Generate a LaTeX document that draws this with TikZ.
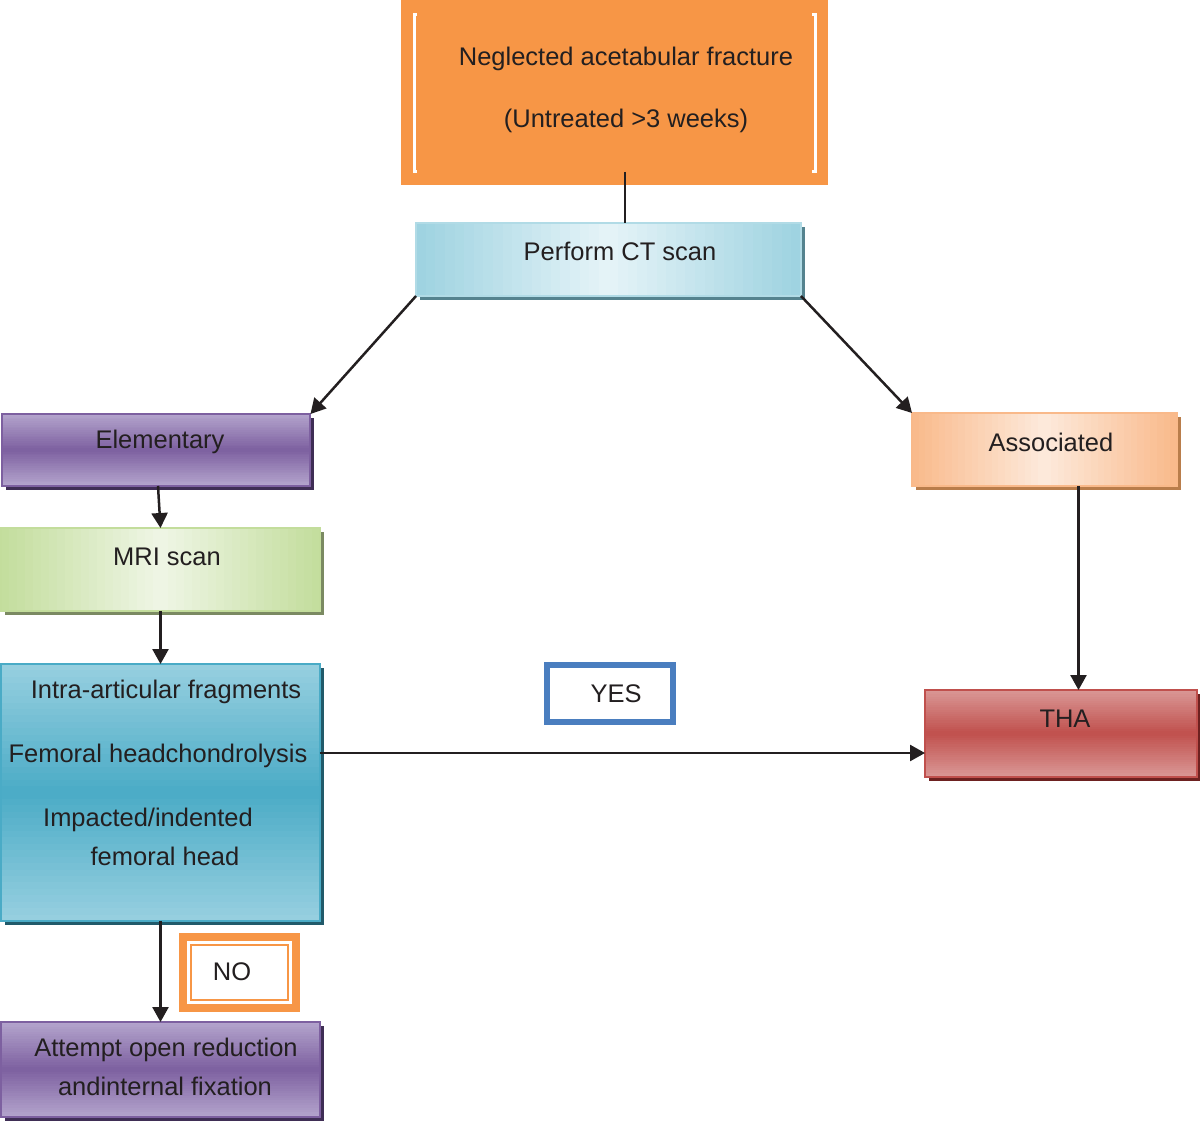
\documentclass[tikz,border=0pt]{standalone}
\usepackage{fontspec}
\setmainfont{Liberation Sans}
\usetikzlibrary{arrows.meta, shadows, calc}

\definecolor{ink}{HTML}{231F20}
\definecolor{fracorange}{HTML}{F79646}
\definecolor{ctdark}{HTML}{9DD2E0}
\definecolor{ctlight}{HTML}{E6F4F8}
\definecolor{ctshadow}{HTML}{55838F}
\definecolor{purpledark}{HTML}{7D60A0}
\definecolor{purplelight}{HTML}{B4A5CD}
\definecolor{purpleshadow}{HTML}{3F2E55}
\definecolor{mridark}{HTML}{C3DD9C}
\definecolor{mrilight}{HTML}{EFF6E6}
\definecolor{mrishadow}{HTML}{7B8A62}
\definecolor{critdark}{HTML}{4AABC6}
\definecolor{critlight}{HTML}{98D0E0}
\definecolor{critshadow}{HTML}{215A6A}
\definecolor{assocdark}{HTML}{F9B98A}
\definecolor{assoclight}{HTML}{FDEADC}
\definecolor{assocshadow}{HTML}{B97D4B}
\definecolor{thadark}{HTML}{C0504D}
\definecolor{thalight}{HTML}{DA9896}
\definecolor{thashadow}{HTML}{6D2120}
\definecolor{yesblue}{HTML}{4A7EBF}

\begin{document}
\begin{tikzpicture}[
    x=0.02cm, y=-0.02cm,
    >={Triangle[length=0.3cm,width=0.32cm]},
    every node/.style={font=\fontsize{14.5}{17}\selectfont, text=ink},
    flow box/.style={draw, line width=0.04cm, inner sep=0pt, outer sep=0pt},
    flow text/.style={inner sep=0pt, align=center},
    flow link/.style={draw=ink, line width=0.05cm},
    box shadow/.style={general shadow={fill=#1, shadow xshift=0.08cm, shadow yshift=-0.08cm}},
    % edge colour #1, middle colour #2, top to bottom
    vgrad/.style 2 args={path picture={
        \foreach \i in {0,...,39} {
            \pgfmathsetmacro\mix{100*abs((\i+0.5)/20-1)}
            \fill [#1!\mix!#2] ($(path picture bounding box.north west)!{\i/40}!(path picture bounding box.south west)$)
                rectangle ($(path picture bounding box.north east)!{(\i+1.5)/40}!(path picture bounding box.south east)$);
        }}},
    % edge colour #1, middle colour #2, left to right
    hgrad/.style 2 args={path picture={
        \foreach \i in {0,...,39} {
            \pgfmathsetmacro\mix{100*abs((\i+0.5)/20-1)}
            \fill [#1!\mix!#2] ($(path picture bounding box.north west)!{\i/40}!(path picture bounding box.north east)$)
                rectangle ($(path picture bounding box.south west)!{(\i+1.5)/40}!(path picture bounding box.south east)$);
        }}},
    purple box/.style={flow box, draw=purpledark, vgrad={purplelight}{purpledark}, box shadow=purpleshadow},
    answer box/.style={draw, fill=white, inner sep=0pt, outer sep=0pt}
    ]
    \useasboundingbox (0,0) rectangle (1200,1122);
    % nodes
    % neglected fracture
    \node [fill=fracorange, minimum width=8.54cm, minimum height=3.7cm, inner sep=0pt, outer sep=0pt] (top) at (614.5,92.5) {};
    \draw [white, line width=0.06cm] (417,15) -- (414,15) -- (414,171) -- (417,171);
    \draw [white, line width=0.06cm] (812,15) -- (815,15) -- (815,171) -- (812,171);
    \node [flow text] (top text 1) at (626,59) {Neglected acetabular fracture};
    \node [flow text] (top text 2) at (626,121) {(Untreated >3 weeks)};
    % CT
    \node [flow box, draw=ctdark!80, hgrad={ctdark}{ctlight}, box shadow=ctshadow,
        minimum width=7.7cm, minimum height=1.46cm] (ct) at (608.5,259.5) {};
    \node [flow text] (ct text) at (620,251) {Perform CT scan};
    % elementary
    \node [purple box, minimum width=6.18cm, minimum height=1.44cm] (elem) at (156,450) {};
    \node [flow text] (elem text) at (160,442) {Elementary};
    % MRI
    \node [flow box, draw=mridark, hgrad={mridark}{mrilight}, box shadow=mrishadow,
        minimum width=6.38cm, minimum height=1.66cm] (mri) at (160.5,569.5) {};
    \node [flow text] (mri text) at (167,557) {MRI scan};
    % criteria
    \node [flow box, draw=critdark, vgrad={critlight}{critdark}, box shadow=critshadow,
        minimum width=6.38cm, minimum height=5.14cm] (crit) at (160.5,792.5) {};
    \node [flow text] (crit text 1) at (166,692) {Intra-articular fragments};
    \node [flow text] (crit text 2) at (158,756) {Femoral headchondrolysis};
    \node [flow text] (crit text 3) at (148,820) {Impacted/indented};
    \node [flow text] (crit text 4) at (165,856) {femoral head};
    % attempt ORIF
    \node [purple box, minimum width=6.38cm, minimum height=1.9cm] (orif) at (160.5,1069.5) {};
    \node [flow text] (orif text 1) at (166,1050) {Attempt open reduction};
    \node [flow text] (orif text 2) at (165,1086) {andinternal fixation};
    % associated
    \node [flow box, draw=assocdark, hgrad={assocdark}{assoclight}, box shadow=assocshadow,
        minimum width=5.3cm, minimum height=1.46cm] (assoc) at (1044.5,449.5) {};
    \node [flow text] (assoc text) at (1051,442) {Associated};
    % THA
    \node [flow box, draw=thadark, vgrad={thalight}{thadark}, box shadow=thashadow,
        minimum width=5.44cm, minimum height=1.74cm] (tha) at (1061,733.5) {};
    \node [flow text] (tha text) at (1065,719) {THA};
    % yes / no
    \node [answer box, draw=yesblue, line width=0.12cm, minimum width=2.52cm, minimum height=1.14cm] (yes) at (610,693.5) {};
    \node [flow text] (yes text) at (616,694) {YES};
    \node [answer box, draw=fracorange, line width=0.16cm, minimum width=2.26cm, minimum height=1.42cm] (no) at (239.5,972.5) {};
    \draw [fracorange, line width=0.05cm] ([shift={(0.16cm,-0.16cm)}]no.north west) rectangle ([shift={(-0.16cm,0.16cm)}]no.south east);
    \node [flow text] (no text) at (232,972) {NO};
    % edges
    \draw [flow link] ([xshift=0.21cm,yshift=0.26cm]top.south) -- ([xshift=0.21cm]top.south |- ct.north);
    \draw [flow link, ->] (ct.south west) -- (elem.north east);
    \draw [flow link, ->] (ct.south east) -- (assoc.north west);
    \draw [flow link, ->] ([xshift=0.04cm]elem.south) -- (mri.north);
    \draw [flow link, ->] (mri.south) -- (crit.north);
    \draw [flow link, ->] ([yshift=0.79cm]crit.east) -- ([yshift=0.79cm]crit.east -| tha.west);
    \draw [flow link, ->] (crit.south) -- (orif.north);
    \draw [flow link, ->] ([xshift=0.68cm]assoc.south) -- ([xshift=0.68cm]assoc.south |- tha.north);
\end{tikzpicture}
\end{document}
